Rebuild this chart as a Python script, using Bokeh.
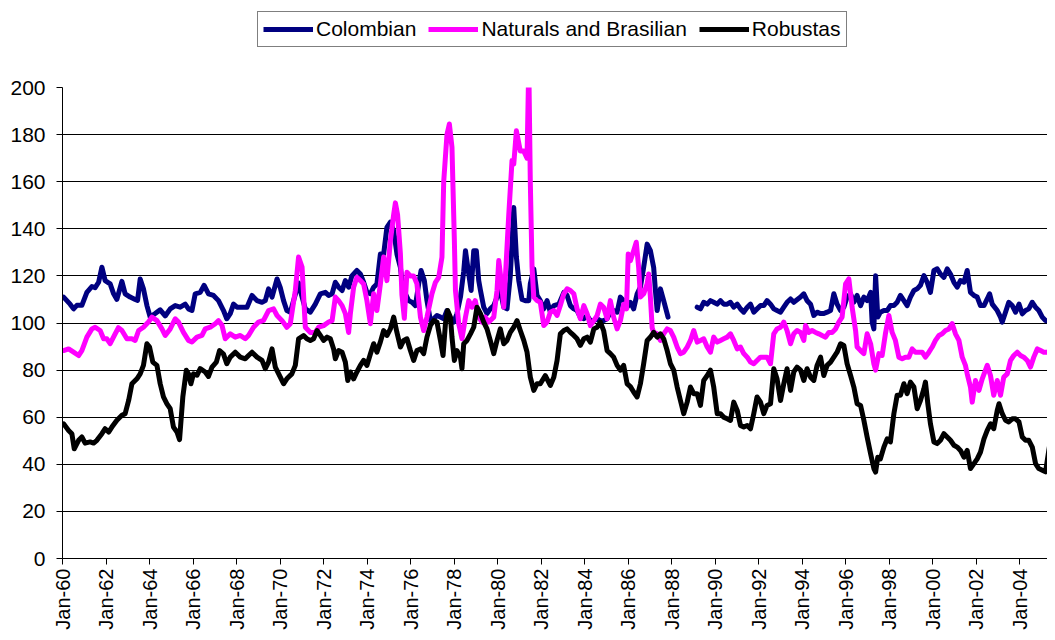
from bokeh.plotting import figure
from bokeh.layouts import column
from bokeh.models import Range1d, FixedTicker, Legend, LegendItem
from bokeh.embed import file_html
from bokeh.resources import INLINE

NAN = float("nan")

# ---------------- data (decimal year, index value) ----------------
colombian_year = [
    1960.05, 1960.35, 1960.51, 1960.66, 1960.89, 1961.12, 1961.35, 1961.50, 1961.66, 1961.81,
    1961.96, 1962.19, 1962.35, 1962.50, 1962.73, 1962.88, 1963.11, 1963.34, 1963.45, 1963.57,
    1963.72, 1963.88, 1964.03, 1964.26, 1964.49, 1964.72, 1964.95, 1965.18, 1965.41, 1965.64,
    1965.79, 1965.95, 1966.10, 1966.33, 1966.51, 1966.71, 1966.94, 1967.17, 1967.40, 1967.55,
    1967.71, 1967.86, 1968.02, 1968.25, 1968.48, 1968.71, 1968.94, 1969.17, 1969.32, 1969.47,
    1969.63, 1969.86, 1970.01, 1970.16, 1970.31, 1970.47, 1970.62, 1970.85, 1970.93, 1971.16,
    1971.39, 1971.62, 1971.85, 1972.08, 1972.23, 1972.39, 1972.54, 1972.69, 1972.85, 1973.00,
    1973.15, 1973.30, 1973.53, 1973.69, 1973.84, 1973.99, 1974.15, 1974.30, 1974.45, 1974.61,
    1974.76, 1974.91, 1975.07, 1975.22, 1975.37, 1975.53, 1975.60, 1975.76, 1975.91, 1976.06,
    1976.22, 1976.37, 1976.48, 1976.63, 1976.75, 1976.91, 1977.06, 1977.21, 1977.37, 1977.52,
    1977.67, 1977.83, 1977.98, 1978.13, 1978.29, 1978.44, 1978.52, 1978.67, 1978.78, 1978.90,
    1979.02, 1979.13, 1979.21, 1979.36, 1979.51, 1979.66, 1979.82, 1979.97, 1980.12, 1980.28,
    1980.43, 1980.58, 1980.74, 1980.86, 1980.97, 1981.12, 1981.27, 1981.43, 1981.50, 1981.66,
    1981.81, 1981.96, 1982.12, 1982.27, 1982.42, 1982.58, 1982.81, 1982.88, 1983.04, 1983.19,
    1983.34, 1983.50, 1983.65, 1983.80, 1983.96, 1984.11, 1984.26, 1984.42, 1984.57, 1984.72,
    1984.87, 1985.03, 1985.18, 1985.33, 1985.49, 1985.64, 1985.79, 1985.95, 1986.10, 1986.25,
    1986.41, 1986.56, 1986.71, 1986.87, 1987.02, 1987.17, 1987.25, 1987.33, 1987.48, 1987.63,
    1987.83, 1988.50, 1989.17, 1989.32, 1989.47, 1989.63, 1989.78, 1989.93, 1990.09, 1990.24,
    1990.39, 1990.55, 1990.70, 1990.85, 1991.01, 1991.16, 1991.31, 1991.47, 1991.62, 1991.77,
    1991.92, 1992.08, 1992.23, 1992.38, 1992.54, 1992.69, 1992.84, 1993.00, 1993.15, 1993.30,
    1993.46, 1993.61, 1993.92, 1994.07, 1994.22, 1994.38, 1994.53, 1994.68, 1994.84, 1994.99,
    1995.14, 1995.30, 1995.45, 1995.60, 1995.76, 1995.91, 1996.06, 1996.22, 1996.37, 1996.52,
    1996.68, 1996.83, 1996.98, 1997.14, 1997.21, 1997.29, 1997.37, 1997.47, 1997.59, 1997.75,
    1997.90, 1998.05, 1998.21, 1998.36, 1998.51, 1998.67, 1998.82, 1998.97, 1999.13, 1999.28,
    1999.43, 1999.59, 1999.74, 1999.89, 2000.05, 2000.20, 2000.35, 2000.51, 2000.66, 2000.81,
    2000.97, 2001.12, 2001.27, 2001.43, 2001.58, 2001.73, 2001.89, 2002.04, 2002.19, 2002.35,
    2002.50, 2002.61, 2002.73, 2002.96, 2003.11, 2003.19, 2003.34, 2003.49, 2003.65, 2003.80,
    2003.96, 2004.11, 2004.26, 2004.41, 2004.57, 2004.72, 2004.87, 2005.03, 2005.18, 2005.33,
    2005.49, 2005.64,
]
colombian_value = [
    111, 108, 106, 107.5, 107.5, 113, 115.5, 115, 117.3, 123.7,
    118, 116.6, 112.4, 110, 117.7, 112.4, 111, 110, 109.6, 118.7,
    114.5, 107.4, 102.5, 104, 105.6, 103, 106, 107.4, 106.7, 108,
    106, 105.3, 112.4, 113, 116, 112.4, 111.7, 109.5, 105.3, 101.8,
    104, 108, 106.7, 106.7, 106.7, 111.7, 109.5, 108.8, 109.5, 114.5,
    111, 118.7, 115, 109.5, 105.3, 104.6, 109.5, 117, 113.8, 106,
    104.6, 108, 112.4, 113, 111.7, 112.4, 117.3, 115.2, 113.8, 118,
    115.2, 120, 122.3, 120.8, 117.3, 113, 112.4, 115.2, 116.6, 129.3,
    129.3, 140.6, 142.8, 139.2, 129.3, 123.6, 118, 112.4, 109.5, 108.8,
    107.4, 116.6, 122.3, 118, 109.5, 101, 101.8, 103.2, 102.5, 101.8,
    105.3, 101.8, 100.4, 104, 111, 122, 130.7, 120.8, 113.8, 130.7,
    130.7, 118, 113.8, 106.7, 104, 106, 107.4, 111, 113.8, 106.7,
    106, 120, 149, 128, 118, 110, 109.5, 109.5, 116.6, 123,
    111.7, 109.5, 106, 109.5, 104.6, 107.4, 108, 109.5, 113, 111.7,
    107.4, 106, 105.3, 102.5, 101.8, 103.2, 101, 101, 101.8, 101,
    101, 101.8, 104.6, 105.3, 104.6, 111, 109.5, 106.7, 108.8, 106,
    112.4, 115.2, 123.6, 133.5, 130.7, 123.6, 113.8, 105.3, 114.5, 109.5,
    102.5, NAN, 106.7, 106, 108.8, 108, 109.5, 108.8, 108, 109.5,
    108, 108, 108.8, 106.7, 108, 106, 104.6, 106.7, 108, 104.6,
    106, 107.4, 107.4, 109.5, 108, 106, 105.3, 104.6, 106.7, 108.8,
    110.2, 108.8, 111, 112.4, 109.5, 108, 103.2, 104.6, 104, 104,
    104.6, 105.3, 112.4, 108, 105.3, 106.7, 111, 112.4, 108.8, 111.7,
    107.4, 111, 109.5, 113, 100.4, 97.5, 120.1, 102.5, 104.6, 105.3,
    105.3, 107.4, 107.4, 108.8, 111.7, 109.5, 107.4, 111, 113.8, 114.5,
    116, 120.1, 117.3, 113, 122.3, 123, 120.8, 119.4, 123, 120.8,
    117.3, 115.2, 118, 117.3, 122.3, 113, 111.7, 111, 107.4, 107.4,
    110.2, 112.4, 108, 105.3, 102.5, 100.4, 104.6, 108.8, 107.4, 104.6,
    108, 103.9, 105.3, 106, 108.8, 106.7, 105.3, 102.5, 101, 101,
    102.5, 103.2,
]

naturals_year = [
    1960.05, 1960.28, 1960.51, 1960.74, 1960.89, 1961.12, 1961.35, 1961.50, 1961.73, 1961.89,
    1962.04, 1962.19, 1962.42, 1962.57, 1962.73, 1962.96, 1963.19, 1963.34, 1963.50, 1963.72,
    1963.95, 1964.11, 1964.34, 1964.57, 1964.72, 1964.95, 1965.18, 1965.33, 1965.56, 1965.79,
    1965.95, 1966.18, 1966.41, 1966.56, 1966.79, 1967.02, 1967.17, 1967.33, 1967.48, 1967.71,
    1967.94, 1968.17, 1968.40, 1968.55, 1968.78, 1969.01, 1969.24, 1969.47, 1969.70, 1969.86,
    1970.09, 1970.31, 1970.47, 1970.70, 1970.85, 1971.01, 1971.16, 1971.39, 1971.62, 1971.77,
    1972.00, 1972.23, 1972.39, 1972.54, 1972.69, 1972.85, 1973.00, 1973.15, 1973.23, 1973.38,
    1973.53, 1973.69, 1973.84, 1973.99, 1974.15, 1974.30, 1974.45, 1974.61, 1974.76, 1974.91,
    1975.07, 1975.22, 1975.30, 1975.40, 1975.53, 1975.60, 1975.71, 1975.83, 1975.99, 1976.14,
    1976.29, 1976.45, 1976.60, 1976.75, 1976.98, 1977.14, 1977.29, 1977.44, 1977.52, 1977.67,
    1977.78, 1977.90, 1978.01, 1978.06, 1978.21, 1978.36, 1978.52, 1978.67, 1978.82, 1978.97,
    1979.13, 1979.28, 1979.43, 1979.59, 1979.82, 1979.97, 1980.05, 1980.20, 1980.28, 1980.51,
    1980.66, 1980.74, 1980.86, 1981.04, 1981.20, 1981.35, 1981.43, 1981.50, 1981.58, 1981.66,
    1981.81, 1981.96, 1982.12, 1982.27, 1982.42, 1982.58, 1982.73, 1982.88, 1983.04, 1983.19,
    1983.34, 1983.50, 1983.65, 1983.80, 1983.96, 1984.11, 1984.26, 1984.42, 1984.57, 1984.72,
    1984.87, 1985.03, 1985.18, 1985.33, 1985.49, 1985.64, 1985.79, 1985.92, 1986.00, 1986.10,
    1986.25, 1986.37, 1986.48, 1986.56, 1986.71, 1986.87, 1986.94, 1987.02, 1987.10, 1987.17,
    1987.33, 1987.48, 1987.63, 1987.79, 1987.94, 1988.09, 1988.25, 1988.40, 1988.55, 1988.71,
    1988.86, 1989.01, 1989.17, 1989.32, 1989.47, 1989.63, 1989.78, 1989.93, 1990.09, 1990.24,
    1990.39, 1990.55, 1990.70, 1990.85, 1991.01, 1991.16, 1991.31, 1991.47, 1991.62, 1991.77,
    1991.92, 1992.08, 1992.23, 1992.38, 1992.54, 1992.69, 1992.84, 1993.00, 1993.15, 1993.30,
    1993.46, 1993.61, 1993.76, 1993.92, 1994.07, 1994.15, 1994.30, 1994.45, 1994.61, 1994.76,
    1994.91, 1995.07, 1995.22, 1995.37, 1995.53, 1995.68, 1995.83, 1995.99, 1996.14, 1996.29,
    1996.45, 1996.52, 1996.68, 1996.83, 1996.98, 1997.14, 1997.29, 1997.37, 1997.52, 1997.67,
    1997.82, 1997.98, 1998.13, 1998.28, 1998.44, 1998.59, 1998.74, 1998.90, 1999.05, 1999.20,
    1999.36, 1999.51, 1999.66, 1999.82, 1999.97, 2000.12, 2000.28, 2000.43, 2000.58, 2000.74,
    2000.89, 2001.04, 2001.20, 2001.35, 2001.50, 2001.58, 2001.73, 2001.81, 2001.96, 2002.12,
    2002.27, 2002.42, 2002.50, 2002.65, 2002.80, 2002.96, 2003.11, 2003.26, 2003.42, 2003.57,
    2003.72, 2003.88, 2004.03, 2004.18, 2004.34, 2004.49, 2004.64, 2004.80, 2004.95, 2005.10,
    2005.26, 2005.41, 2005.56,
]
naturals_value = [
    88.3, 89, 87.6, 86.2, 88.3, 94, 97.5, 98.2, 96.8, 93.3,
    93.3, 91.2, 95.4, 98, 96.8, 93.3, 93.3, 92.6, 96.8, 98.2,
    100.4, 102.5, 101, 97.5, 94.7, 97.5, 101.8, 100.4, 96, 92.6,
    91.9, 94, 94.7, 97.5, 98.2, 99.7, 101, 99, 93.3, 95.4,
    94, 94.7, 93.3, 94.7, 98.2, 100.4, 101.1, 105.3, 106, 103.2,
    101, 98.2, 99.7, 113.8, 128, 123.7, 98.2, 96, 96, 98.2,
    98.9, 100.4, 101, 111, 109.5, 107.4, 104, 96, 104, 115.2,
    119.4, 118, 116.6, 109.5, 99.7, 112.4, 105.3, 116.6, 128, 118,
    135, 146, 151, 146, 129.3, 112, 102, 121.5, 120, 120,
    116.6, 102.5, 96.8, 102.5, 112.4, 117.3, 119.4, 128, 160, 180,
    184.5, 174.6, 135, 113.8, 99.7, 93.3, 102.5, 109.5, 106.7, 109.5,
    102.5, 100.4, 102.5, 100.4, 102.5, 113.8, 126.5, 115, 106.7, 146,
    169, 167.5, 181.6, 173, 173, 170, 210, 160, 123.7, 111,
    109.5, 108.8, 98.9, 100.4, 104.6, 105.3, 103.2, 107.4, 112.4, 114.5,
    113.8, 112.4, 106, 101.8, 107.4, 104, 98.9, 101, 103.2, 108,
    106.7, 101.8, 109.5, 102.5, 97.5, 101, 108, 106, 129.3, 126.5,
    130.7, 134.3, 123.6, 111, 112.4, 116.6, 120.8, 111, 98, 96,
    95.4, 92.6, 95.4, 97.5, 96.8, 94, 89.8, 87, 87.6, 89.8,
    92.6, 96.8, 91.9, 92.6, 93.3, 89.8, 87.6, 94, 91.9, 92.6,
    93.3, 94, 95.4, 92.6, 89, 89.8, 87, 85.5, 83.4, 82.7,
    84.1, 85.5, 85.5, 85.5, 82.7, 95.4, 97.5, 98.2, 100.4, 96.8,
    91.2, 95.4, 96.8, 96, 92.6, 98.9, 96, 96.8, 96, 95.4,
    94.7, 94, 96, 96, 97.5, 100.4, 102.5, 116.6, 118.7, 106.7,
    96.8, 89.8, 88.3, 87, 95.4, 91.2, 82.7, 80, 87, 86.2,
    95.4, 103.2, 96, 92.6, 85.5, 84.8, 85.5, 85.5, 89, 87.6,
    87.6, 87.6, 85.5, 87.6, 89.8, 92.6, 94.7, 95.4, 96.8, 97.5,
    99.7, 95.4, 92.6, 85.5, 82, 78.4, 72.8, 66.4, 75.6, 71.4,
    76.3, 80, 82, 77.7, 69.3, 75.6, 69.3, 77, 78.4, 84.1,
    86.2, 87.6, 86.2, 85.5, 84.1, 81.3, 85.5, 89, 88.3, 87.6,
    87.6, 88.3, 88.3,
]

robustas_year = [
    1960.05, 1960.28, 1960.43, 1960.54, 1960.74, 1960.89, 1961.04, 1961.27, 1961.43, 1961.58,
    1961.81, 1961.96, 1962.12, 1962.27, 1962.50, 1962.73, 1962.88, 1963.04, 1963.19, 1963.42,
    1963.57, 1963.72, 1963.88, 1964.00, 1964.15, 1964.34, 1964.49, 1964.64, 1964.80, 1964.95,
    1965.10, 1965.26, 1965.38, 1965.53, 1965.69, 1965.79, 1965.90, 1966.02, 1966.18, 1966.33,
    1966.56, 1966.71, 1966.87, 1967.07, 1967.22, 1967.40, 1967.55, 1967.71, 1967.94, 1968.17,
    1968.40, 1968.55, 1968.71, 1968.94, 1969.17, 1969.32, 1969.47, 1969.63, 1969.78, 1970.01,
    1970.16, 1970.31, 1970.54, 1970.70, 1970.85, 1971.08, 1971.23, 1971.39, 1971.54, 1971.70,
    1971.85, 1972.00, 1972.16, 1972.31, 1972.46, 1972.54, 1972.69, 1972.85, 1973.00, 1973.11,
    1973.23, 1973.38, 1973.53, 1973.69, 1973.84, 1973.99, 1974.15, 1974.30, 1974.45, 1974.61,
    1974.76, 1974.91, 1975.07, 1975.22, 1975.37, 1975.53, 1975.68, 1975.83, 1975.99, 1976.14,
    1976.29, 1976.45, 1976.60, 1976.75, 1976.91, 1977.06, 1977.21, 1977.37, 1977.49, 1977.60,
    1977.70, 1977.83, 1977.90, 1978.01, 1978.13, 1978.29, 1978.36, 1978.44, 1978.59, 1978.75,
    1978.90, 1979.05, 1979.21, 1979.36, 1979.51, 1979.66, 1979.82, 1979.97, 1980.12, 1980.28,
    1980.43, 1980.58, 1980.74, 1980.89, 1981.04, 1981.20, 1981.35, 1981.50, 1981.66, 1981.81,
    1981.96, 1982.19, 1982.42, 1982.58, 1982.73, 1982.88, 1983.04, 1983.19, 1983.34, 1983.50,
    1983.65, 1983.80, 1983.96, 1984.11, 1984.26, 1984.42, 1984.57, 1984.72, 1984.87, 1985.03,
    1985.18, 1985.33, 1985.49, 1985.64, 1985.79, 1985.95, 1986.10, 1986.25, 1986.41, 1986.56,
    1986.71, 1986.87, 1987.02, 1987.17, 1987.33, 1987.48, 1987.63, 1987.79, 1987.94, 1988.09,
    1988.25, 1988.40, 1988.55, 1988.71, 1988.86, 1989.01, 1989.17, 1989.32, 1989.47, 1989.63,
    1989.78, 1989.93, 1990.09, 1990.24, 1990.39, 1990.55, 1990.70, 1990.85, 1991.01, 1991.16,
    1991.31, 1991.47, 1991.62, 1991.77, 1991.92, 1992.08, 1992.23, 1992.38, 1992.54, 1992.69,
    1992.84, 1993.00, 1993.15, 1993.30, 1993.46, 1993.61, 1993.76, 1993.92, 1994.07, 1994.22,
    1994.38, 1994.53, 1994.68, 1994.84, 1994.99, 1995.14, 1995.30, 1995.45, 1995.60, 1995.76,
    1995.91, 1996.06, 1996.22, 1996.37, 1996.52, 1996.68, 1996.83, 1996.98, 1997.14, 1997.29,
    1997.37, 1997.47, 1997.59, 1997.75, 1997.90, 1998.05, 1998.21, 1998.36, 1998.51, 1998.67,
    1998.82, 1998.97, 1999.13, 1999.28, 1999.43, 1999.59, 1999.66, 1999.77, 1999.89, 2000.05,
    2000.20, 2000.35, 2000.51, 2000.66, 2000.81, 2000.97, 2001.12, 2001.27, 2001.43, 2001.58,
    2001.73, 2001.89, 2002.04, 2002.19, 2002.35, 2002.50, 2002.65, 2002.80, 2002.96, 2003.04,
    2003.19, 2003.34, 2003.49, 2003.65, 2003.80, 2003.96, 2004.11, 2004.26, 2004.41, 2004.57,
    2004.72, 2004.87, 2005.03, 2005.18, 2005.33, 2005.49, 2005.64,
]
robustas_value = [
    57.2, 54.4, 53, 46.6, 50.2, 51.6, 49, 49.5, 49, 50.2,
    53, 55.1, 53.7, 55.8, 58.7, 60.8, 61.5, 67.1, 74.2, 76.3,
    78.4, 82, 91.2, 89.8, 83.4, 82, 74.2, 68.6, 65.7, 63.6,
    55.8, 53.7, 50.5, 68.6, 79.9, 78.4, 74.2, 78.4, 77.8, 80.6,
    79.2, 77.3, 81.3, 83.4, 88.3, 86.8, 82.7, 85.5, 87.6, 85.5,
    84.8, 86.2, 87.6, 85.5, 84.1, 80.6, 83.4, 89, 81.3, 77,
    74.2, 76.3, 78.4, 82, 93.3, 94.7, 93.3, 92.6, 93.3, 96.8,
    94.7, 92.6, 94, 93.3, 89, 84.8, 88.3, 87.6, 83.4, 75.6,
    79.2, 76.3, 79.2, 82, 84.1, 82, 86.8, 91.2, 87.6, 92,
    96.8, 94.7, 97.5, 102.5, 96, 89.8, 92.6, 93.3, 88.3, 84.1,
    88.3, 89, 87, 94, 99, 101, 100.4, 92.6, 86.2, 99.7,
    105.3, 102.5, 94, 84.1, 88.3, 85.5, 80.6, 91.2, 92.6, 95.4,
    98.2, 106.7, 104, 100.4, 97.5, 92.6, 87, 92.6, 97.5, 91.2,
    92.6, 96, 98.2, 101, 96.8, 92.6, 87.6, 77, 71.4, 74.2,
    74.2, 77.7, 73.5, 77, 84.1, 95.4, 96.8, 97.5, 96, 94.7,
    93.3, 90.5, 93.3, 94, 91.9, 97.5, 98.2, 100.4, 96.8, 88.3,
    87, 85.5, 82, 80, 82, 74.2, 73, 70.7, 68.6, 74.2,
    82.7, 92.6, 94, 96, 94, 95.4, 93.3, 88.3, 82.7, 80,
    72.8, 67.1, 61.5, 66.4, 72.8, 70, 70, 65, 75.6, 77.7,
    80, 72.8, 61.5, 61.5, 60, 59.3, 58.6, 66.4, 62.9, 56.5,
    55.8, 56.5, 55.1, 61.5, 68.6, 66.4, 61.5, 65, 65.7, 80.6,
    76.3, 67.1, 74.2, 80.6, 71.4, 79.2, 81.3, 80, 75.6, 80.6,
    77, 75.6, 82, 85.5, 77.7, 82, 83.4, 85.5, 87.6, 91.2,
    90.5, 82.7, 77.7, 72.8, 65.7, 65, 58.7, 51.6, 44.5, 38.2,
    36.7, 43, 42.3, 47.3, 50.8, 49.5, 61.5, 69.3, 69.3, 74.2,
    70, 74.9, 72.8, 63.6, 67.1, 72.1, 74.9, 65.7, 57.2, 49.5,
    48.8, 50.2, 53, 51.6, 50.2, 48.1, 47.3, 45.9, 43, 45.9,
    38.2, 40.3, 42.3, 45.2, 50.8, 54.4, 57.2, 55.1, 62.9, 65.7,
    61.5, 58.7, 58, 59.3, 59.3, 58, 51.6, 50.2, 50.2, 47.3,
    40.3, 38.2, 37.5, 36.8, 45.9, 55.1, 53.7,
]

series_names = ["Colombian", "Naturals and Brasilian", "Robustas"]
series_colors = ["#000080", "#FF00FF", "#000000"]

x_tick_years = [1960, 1962, 1964, 1966, 1968, 1970, 1972, 1974, 1976, 1978, 1980, 1982,
                1984, 1986, 1988, 1990, 1992, 1994, 1996, 1998, 2000, 2002, 2004]
x_tick_labels = ["Jan-60", "Jan-62", "Jan-64", "Jan-66", "Jan-68", "Jan-70", "Jan-72",
                 "Jan-74", "Jan-76", "Jan-78", "Jan-80", "Jan-82", "Jan-84", "Jan-86",
                 "Jan-88", "Jan-90", "Jan-92", "Jan-94", "Jan-96", "Jan-98", "Jan-00",
                 "Jan-02", "Jan-04"]
y_ticks = [0, 20, 40, 60, 80, 100, 120, 140, 160, 180, 200]

FONT = "Liberation Sans"
LEGEND_H = 50
LEFT = 62

# ---------------- legend strip (own small figure so it is not clipped) ----------------
lg = figure(width=1047, height=LEGEND_H, output_backend="svg", toolbar_location=None,
            x_range=Range1d(0, 1), y_range=Range1d(0, 1),
            x_axis_location=None, y_axis_location=None,
            min_border_left=LEFT, min_border_right=0, min_border_top=0, min_border_bottom=0)
lg.outline_line_color = None
lg.grid.visible = False
lg_renderers = [lg.line([NAN], [NAN], line_color=c, line_width=5) for c in series_colors]
legend = Legend(
    items=[LegendItem(label=n, renderers=[r]) for n, r in zip(series_names, lg_renderers)],
    orientation="horizontal",
    location=(257 - LEFT, LEGEND_H - 47),
    label_text_font=FONT,
    label_text_font_size="21px",
    label_text_color="black",
    glyph_width=50,
    glyph_height=20,
    label_standoff=3,
    spacing=12,
    padding=5,
    margin=0,
    border_line_color="black",
    border_line_width=1,
    background_fill_color="white",
    background_fill_alpha=1,
)
lg.add_layout(legend, "center")

# ---------------- main chart ----------------
p = figure(width=1047, height=632 - LEGEND_H, output_backend="svg", toolbar_location=None,
           x_range=Range1d(1960, 2005.27), y_range=Range1d(0, 200),
           min_border_left=LEFT, min_border_right=0, min_border_top=87 - LEGEND_H,
           min_border_bottom=73)
p.outline_line_color = None
p.background_fill_color = "white"
p.border_fill_color = "white"

p.xgrid.visible = False
p.ygrid.ticker = FixedTicker(ticks=y_ticks)
p.ygrid.grid_line_color = "black"
p.ygrid.grid_line_width = 1

p.yaxis.ticker = FixedTicker(ticks=y_ticks)
p.xaxis.ticker = FixedTicker(ticks=x_tick_years)
p.xaxis.major_label_overrides = {y: l for y, l in zip(x_tick_years, x_tick_labels)}
p.xaxis.major_label_orientation = 3.14159265 / 2

for ax in (p.xaxis[0], p.yaxis[0]):
    ax.axis_line_color = "black"
    ax.axis_line_width = 1
    ax.major_tick_line_color = "black"
    ax.major_tick_out = 6
    ax.major_tick_in = 0
    ax.minor_tick_line_color = None
    ax.major_label_text_font = FONT
    ax.major_label_text_color = "black"
p.yaxis.major_label_text_font_size = "21px"
p.xaxis.major_label_text_font_size = "20px"
p.yaxis.major_label_standoff = 11
p.xaxis.major_label_standoff = 4

p.line(colombian_year, colombian_value, line_color=series_colors[0], line_width=5,
       line_join="round", line_cap="round")
p.line(naturals_year, naturals_value, line_color=series_colors[1], line_width=5,
       line_join="round", line_cap="round")
p.line(robustas_year, robustas_value, line_color=series_colors[2], line_width=5,
       line_join="round", line_cap="round")

layout = column(lg, p, spacing=0)
open("out.html", "w").write(file_html(layout, INLINE))
